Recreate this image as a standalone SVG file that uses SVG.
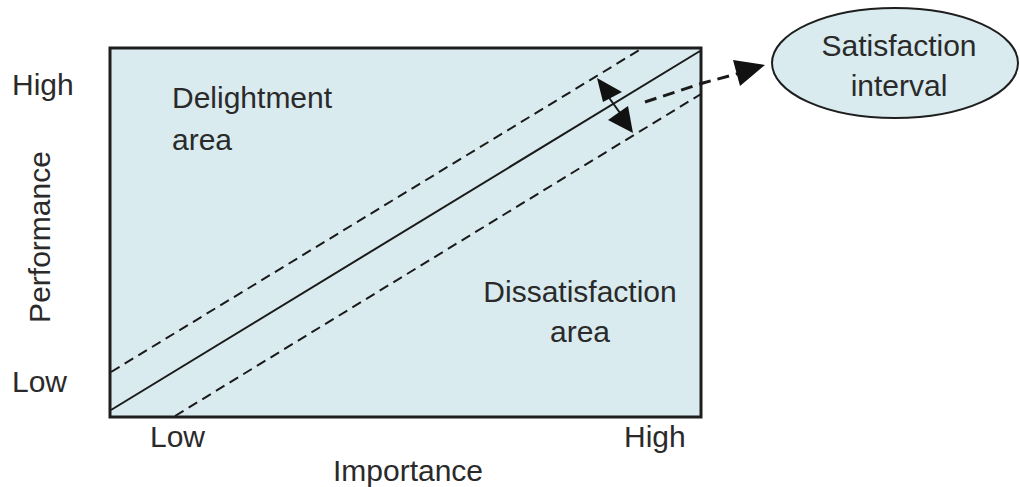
<svg xmlns="http://www.w3.org/2000/svg" width="1020" height="487" viewBox="0 0 1020 487">
<defs>
<style>
text{font-family:"Liberation Sans",Arial,sans-serif;font-size:30px;fill:#2a2a2a}
.mid{text-anchor:middle}
.dash{fill:none;stroke:#1a1a1a;stroke-width:2;stroke-dasharray:10 6}
.solid{fill:none;stroke:#1a1a1a;stroke-width:2}
.head{fill:#111}
</style>
</defs>
<rect width="1020" height="487" fill="#ffffff"/>
<g id="chart">
<rect x="110" y="48" width="591" height="369" fill="#d9ebee" stroke="#1e1e1e" stroke-width="3"/>
<text x="172" y="108">Delightment</text>
<text x="172" y="150">area</text>
<text class="mid" x="580" y="302">Dissatisfaction</text>
<text class="mid" x="580" y="342">area</text>
</g>
<g id="axis-labels">
<text x="12" y="95">High</text>
<text x="12" y="392">Low</text>
<text class="mid" transform="translate(50,237) rotate(-90)">Performance</text>
<text x="150" y="447">Low</text>
<text class="mid" x="408" y="481">Importance</text>
<text x="624" y="447">High</text>
</g>
<g id="satisfaction-interval">
<ellipse cx="895" cy="63" rx="123" ry="55" fill="#d9ebee" stroke="#1e1e1e" stroke-width="2"/>
<text class="mid" x="899" y="56">Satisfaction</text>
<text class="mid" x="899" y="96">interval</text>
</g>
<g id="connectors">
<line class="solid" x1="111" y1="410" x2="700" y2="51"/>
<line class="dash" x1="111" y1="372" x2="641" y2="49"/>
<line class="dash" x1="175" y1="416" x2="701" y2="94"/>
<line class="solid" x1="602" y1="88" x2="628" y2="124"/>
<polygon class="head" points="597,78 622,92 603,102"/>
<polygon class="head" points="633,133 608,120 628,106"/>
<polyline points="645,102 703,83 740,73" fill="none" stroke="#1a1a1a" stroke-width="3" stroke-dasharray="12 7"/>
<polygon class="head" points="765,65 733,60 740,86"/>
</g>
</svg>
